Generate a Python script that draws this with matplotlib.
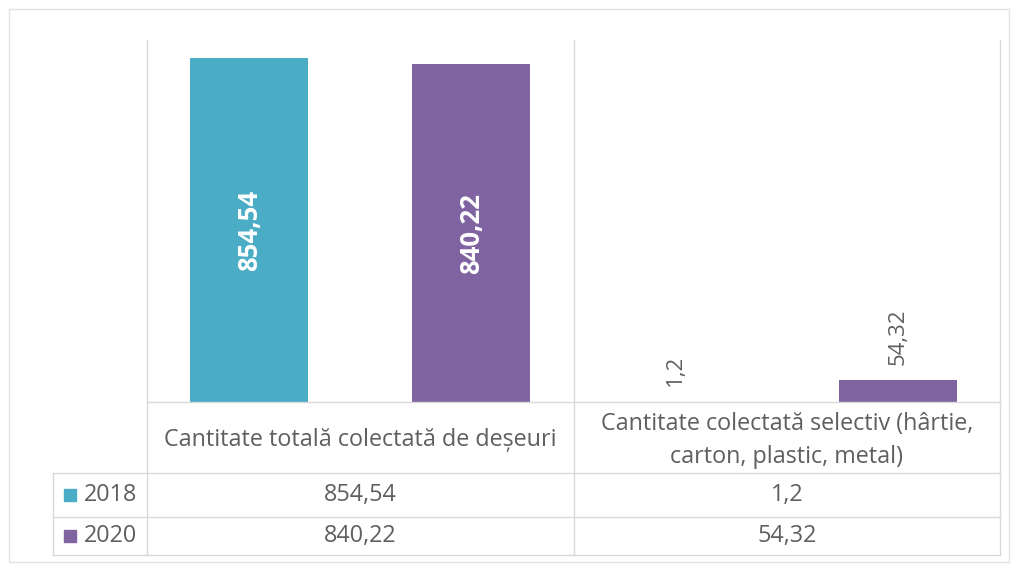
import numpy as np
import matplotlib.pyplot as plt
from matplotlib.patches import Rectangle
from matplotlib.lines import Line2D

categories = ["Cantitate totală colectată de deșeuri",
              "Cantitate colectată selectiv (hârtie,\ncarton, plastic, metal)"]
series = ["2018", "2020"]
values_2018 = [854.54, 1.2]
values_2020 = [840.22, 54.32]
colors = ["#4BACC6", "#8064A2"]

plt.rcParams["font.family"] = ["Open Sans", "DejaVu Sans"]
text_color = "#5F5F5F"
grid_color = "#D9D9D9"

W, H = 1017, 565
fig = plt.figure(figsize=(W / 100, H / 100), dpi=100)

def fx(px):
    return px / W

def fy(py):
    return 1 - py / H

# outer chart border
fig.add_artist(Rectangle((fx(9), fy(562)), fx(1000), 1 - 9 / H - 3 / H,
                         transform=fig.transFigure, fill=False,
                         edgecolor="#E3E3E3", linewidth=1))

# plot area
left, right, top, base = 147, 1000, 40, 402
ax = fig.add_axes([fx(left), fy(base), fx(right - left), (base - top) / H])
x = np.arange(len(categories)) + 0.5
bw = 0.277
off = 0.26
for vals, col, sign in [(values_2018, colors[0], -1), (values_2020, colors[1], 1)]:
    bars = ax.bar(x + sign * off, vals, width=bw, color=col, zorder=2)
    for b, v in zip(bars, vals):
        lbl = f"{v:g}".replace(".", ",")
        cx = b.get_x() + b.get_width() / 2
        if v > 300:
            ax.text(cx, v / 2, lbl, rotation=90, ha="center", va="center",
                    color="white", fontsize=18.5, fontweight="bold")
        else:
            ax.annotate(lbl, (cx, v), xytext=(0, 11), textcoords="offset points",
                        rotation=90, ha="center", va="bottom",
                        color=text_color, fontsize=16)
ax.set_xlim(0, len(categories))
ax.set_ylim(0, 900)
ax.axis("off")

# table
tb_left, row0, row1, row2, row3 = 53, 402, 473, 517, 555
cat_w = (right - left) / len(categories)
col_x = [left + i * cat_w for i in range(len(categories) + 1)]

def hline(py, x0, x1):
    fig.add_artist(Line2D([fx(x0), fx(x1)], [fy(py), fy(py)],
                          color=grid_color, linewidth=1))

def vline(px, y0, y1):
    fig.add_artist(Line2D([fx(px), fx(px)], [fy(y0), fy(y1)],
                          color=grid_color, linewidth=1))

hline(row0, left, right)
for py in (row1, row2, row3):
    hline(py, tb_left, right)
vline(tb_left, row1, row3)
for px in col_x:
    vline(px, top, row3)

for i, cat in enumerate(categories):
    fig.text(fx(col_x[i] + cat_w / 2), fy((row0 + row1) / 2 + 3), cat,
             ha="center", va="center", fontsize=16.8, color=text_color,
             linespacing=1.45)

rows = [(row1, row2), (row2, row3)]
for (y0, y1), name, vals, col in zip(rows, series, [values_2018, values_2020], colors):
    yc = (y0 + y1) / 2
    fig.add_artist(Rectangle((fx(64), fy(yc + 6)), fx(12), 12 / H,
                             transform=fig.transFigure, color=col))
    fig.text(fx(84), fy(yc), name, ha="left", va="center",
             fontsize=16.8, color=text_color)
    for i, v in enumerate(vals):
        fig.text(fx(col_x[i] + cat_w / 2), fy(yc), f"{v:g}".replace(".", ","),
                 ha="center", va="center", fontsize=16.8, color=text_color)

plt.savefig("out.png", dpi=100)
